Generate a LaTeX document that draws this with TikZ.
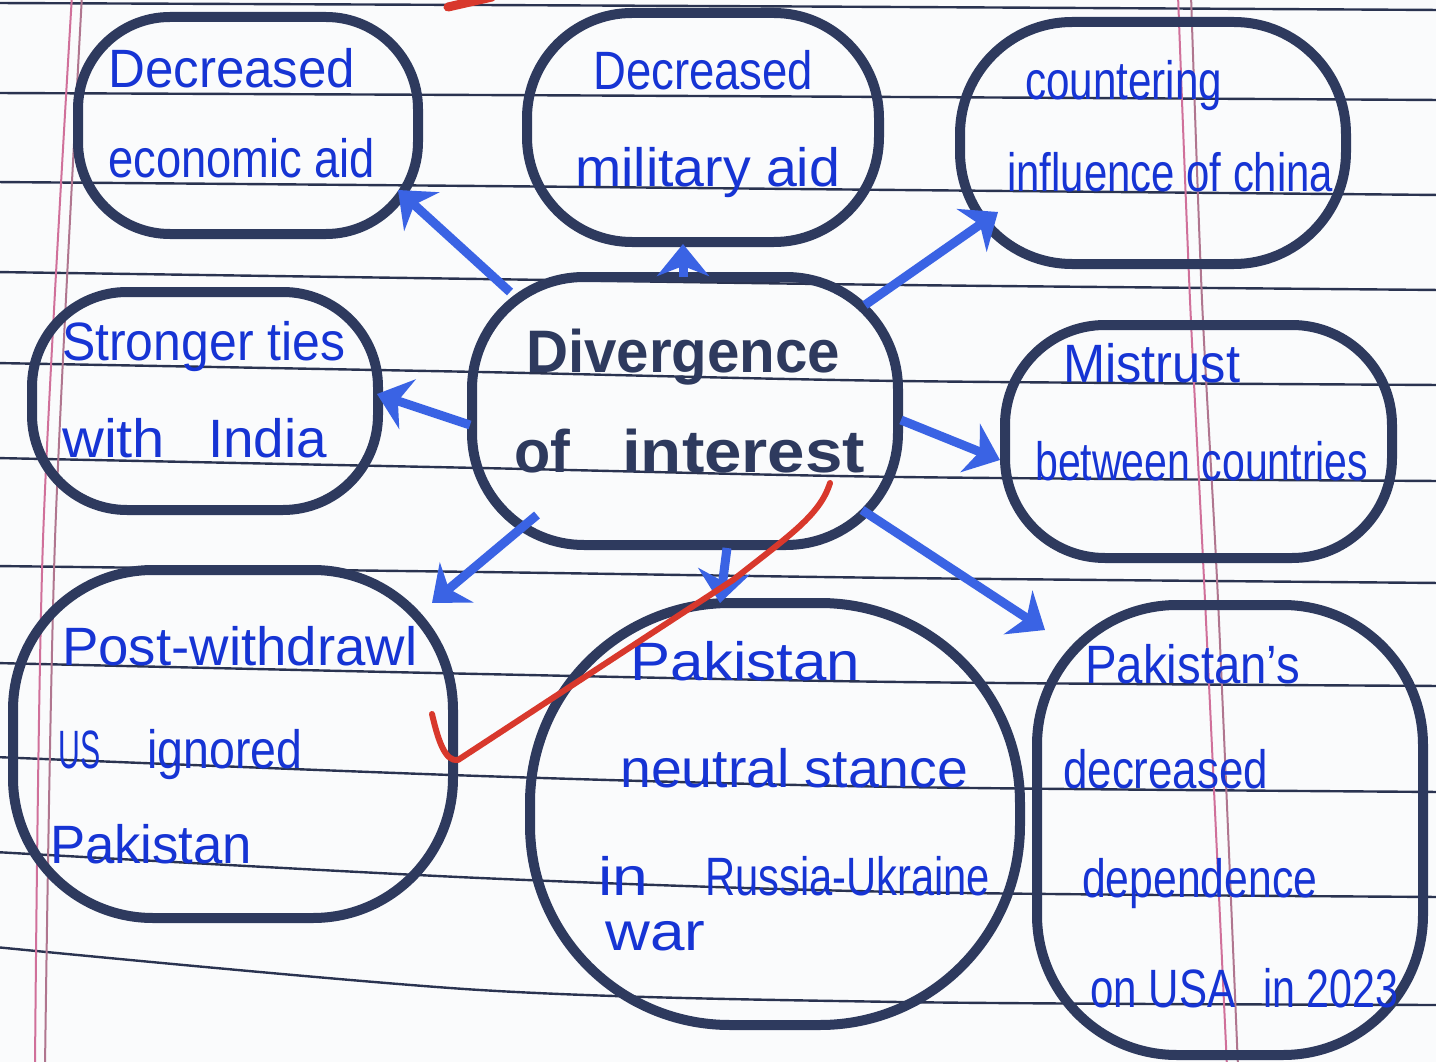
\documentclass[tikz,border=0pt]{standalone}
\usepackage{fontspec}
\setmainfont{Liberation Sans}
\usetikzlibrary{arrows.meta,calc}
\definecolor{ink}{HTML}{1634D4}
\definecolor{navy}{HTML}{2E3A5E}
\definecolor{arrowblue}{HTML}{3A63E4}
\definecolor{rulecol}{HTML}{2A3350}
\definecolor{margincol}{HTML}{D0709A}
\definecolor{checkred}{HTML}{D8382C}
\definecolor{paper}{HTML}{FAFBFC}
\newcommand\hw[2]{\resizebox{#1pt}{\height}{#2}}
\begin{document}
\begin{tikzpicture}[x=1pt,y=-1pt,
 box/.style={draw=navy, line width=10pt, rectangle, inner sep=0pt},
 txt/.style={anchor=base west, inner sep=0pt, text=ink, font=\fontsize{54}{60}\selectfont},
 ctxt/.style={anchor=base west, inner sep=0pt, text=navy, font=\fontsize{60}{66}\selectfont\bfseries},
 arr/.style={draw=arrowblue, line width=9pt, -{Stealth[length=32pt,width=52pt,inset=10pt]}},
 ruleline/.style={draw=rulecol, line width=2.4pt},
 marginline/.style={draw=margincol, line width=2pt},
 tick/.style={draw=checkred, line width=6pt, line cap=round, line join=round}]
\useasboundingbox (0,0) rectangle (1436,1062);
\clip (0,0) rectangle (1436,1062);
\fill[paper] (0,0) rectangle (1436,1062);
% ruled paper
\foreach \a/\b/\c/\d in {3/5/7/10, 93/95/97/100, 182/186/190/195, 272/279/285/290,
  363/372/381/385, 458/468/477/481, 566/572/578/583, 663/674/682/686,
  757/776/787/792, 852/878/892/897, 947/990/1002/1005}
  \draw[ruleline] plot[smooth] coordinates {(-5,\a) (480,\b) (900,\c) (1441,\d)};
\draw[marginline] plot[smooth] coordinates {(72,-5) (43,540) (35,1067)};
\draw[marginline, draw=margincol!60!gray] plot[smooth] coordinates {(82,-5) (55,540) (45,1067)};
\draw[marginline] plot[smooth] coordinates {(1178,-5) (1190,300) (1205,600) (1227,1067)};
\draw[marginline, draw=margincol!60!gray] plot[smooth] coordinates {(1191,-5) (1202,300) (1218,600) (1238,1067)};

% boxes
\node[box, minimum width=340pt, minimum height=217pt, rounded corners=92pt] (b1) at (248,125.5) {};
\node[box, minimum width=352pt, minimum height=229pt, rounded corners=105pt] (b2) at (703,127.5) {};
\node[box, minimum width=386pt, minimum height=242pt, rounded corners=112pt] (b3) at (1153,143) {};
\node[box, minimum width=346pt, minimum height=218pt, rounded corners=95pt] (b4) at (205,401) {};
\node[box, minimum width=426pt, minimum height=268pt, rounded corners=112pt] (c) at (685,411) {};
\node[box, minimum width=387pt, minimum height=233pt, rounded corners=100pt] (b6) at (1198.5,441.5) {};
\node[box, minimum width=440pt, minimum height=348pt, rounded corners=140pt] (b7) at (233,744) {};
\node[box, minimum width=490pt, minimum height=422pt, rounded corners=200pt] (b8) at (775,814) {};
\node[box, minimum width=386pt, minimum height=450pt, rounded corners=140pt] (b9) at (1230,830) {};

% texts
\node[txt] (t1a) at (108,88) {\hw{247}{Decreased}};
\node[txt] (t1b) at (108,178) {\hw{267}{economic aid}};
\node[txt] (t2a) at (593,90) {\hw{220}{Decreased}};
\node[txt] (t2b) at (575,187) {\hw{265}{military aid}};
\node[txt] (t3a) at (1025,100) {\hw{197}{countering}};
\node[txt] (t3b) at (1007,192) {\hw{326}{influence of china}};
\node[txt] (t4a) at (62,360) {\hw{283}{Stronger ties}};
\node[txt] (t4b) at (62,457) {\hw{103}{with}};
\node[txt] (t4c) at (208,457) {\hw{119}{India}};
\node[ctxt] (tca) at (526,372) {\hw{314}{Divergence}};
\node[ctxt] (tcb) at (514,472) {\hw{56}{of}};
\node[ctxt] (tcc) at (622,472) {\hw{243}{interest}};
\node[txt] (t6a) at (1063,382) {\hw{177}{Mistrust}};
\node[txt] (t6b) at (1035,480) {\hw{333}{between countries}};
\node[txt] (t7a) at (62,665) {\hw{355}{Post-withdrawl}};
\node[txt] (t7b) at (58,768) {\hw{42}{US}};
\node[txt] (t7c) at (147,768) {\hw{155}{ignored}};
\node[txt] (t7d) at (50,863) {\hw{202}{Pakistan}};
\node[txt] (t8a) at (630,680) {\hw{230}{Pakistan}};
\node[txt] (t8b) at (620,787) {\hw{348}{neutral stance}};
\node[txt] (t8c) at (598,895) {\hw{50}{in}};
\node[txt] (t8d) at (705,895) {\hw{285}{Russia-Ukraine}};
\node[txt] (t8e) at (605,950) {\hw{100}{war}};
\node[txt] (t9a) at (1085,683) {\hw{215}{Pakistan's}};
\node[txt] (t9b) at (1063,788) {\hw{205}{decreased}};
\node[txt] (t9c) at (1082,897) {\hw{235}{dependence}};
\node[txt] (t9d) at (1090,1007) {\hw{145}{on USA}};
\node[txt] (t9e) at (1263,1007) {\hw{135}{in 2023}};

% arrows
\draw[arr] ($(c.center)+(-175,-119)$) -- ($(b1.center)+(150,64.5)$);
\draw[arr] ($(c.center)+(-2,-134)$) -- ($(b2.center)+(-20,116.5)$);
\draw[arr] ($(c.center)+(180,-106)$) -- ($(b3.center)+(-155,69)$);
\draw[arr] ($(c.center)+(-215,14)$) -- ($(b4.center)+(172,-7)$);
\draw[arr] ($(c.center)+(216,9)$) -- ($(b6.center)+(-198.5,18.5)$);
\draw[arr] ($(c.center)+(-148,104)$) -- ($(b7.center)+(199,-141)$);
\draw[arr] ($(c.center)+(42,137)$) -- ($(b8.center)+(-55,-211)$);
\draw[arr] ($(c.center)+(177,99)$) -- ($(b9.center)+(-185,-200)$);

% red check mark
\draw[tick] (432,714) .. controls (438,740) and (445,762) .. (458,760)
  -- (733,580) .. controls (790,535) and (820,515) .. (830,483);
\draw[tick, line width=9pt] (448,7) -- (492,-3);
\end{tikzpicture}
\end{document}
